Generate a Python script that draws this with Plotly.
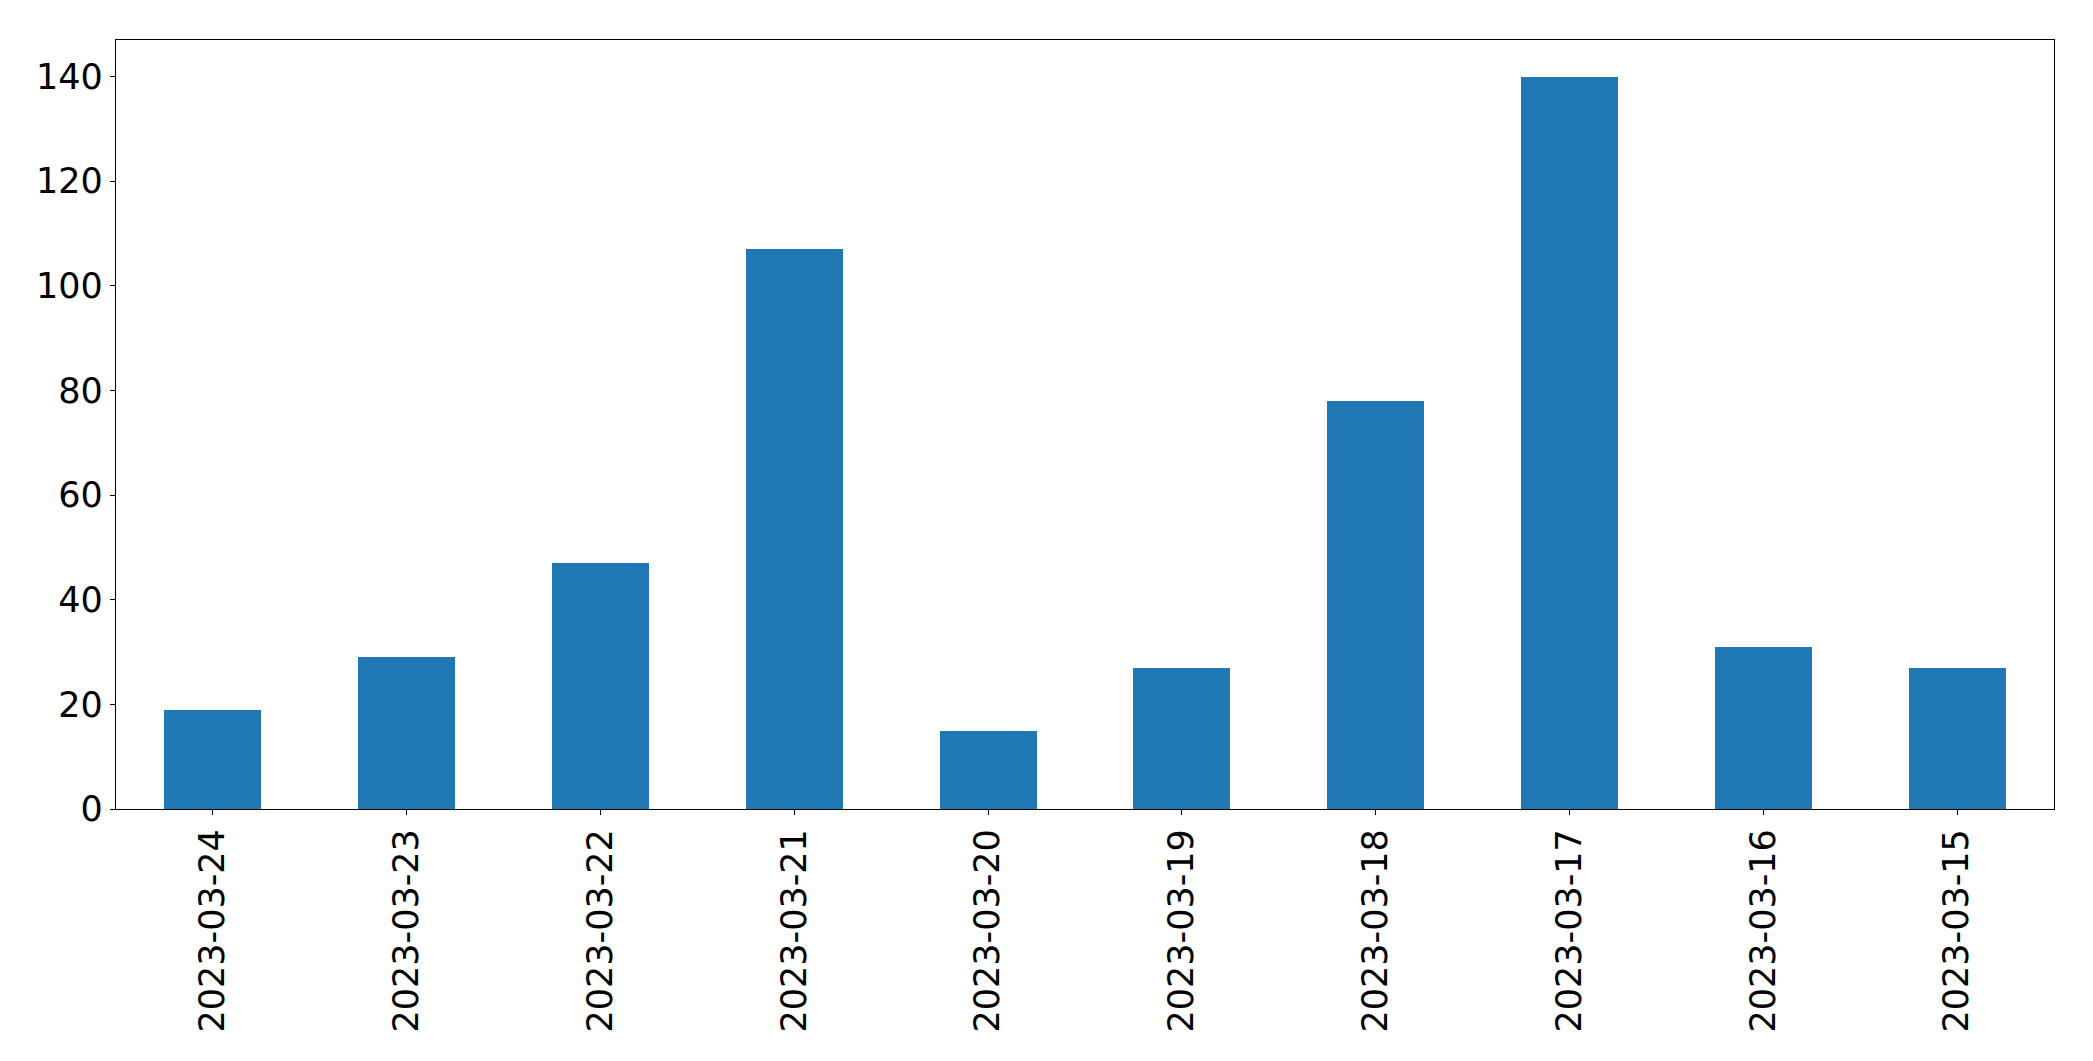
import plotly.graph_objects as go

dates = ["2023-03-24", "2023-03-23", "2023-03-22", "2023-03-21", "2023-03-20",
         "2023-03-19", "2023-03-18", "2023-03-17", "2023-03-16", "2023-03-15"]
counts = [19, 29, 47, 107, 15, 27, 78, 140, 31, 27]
y_ticks = [0, 20, 40, 60, 80, 100, 120, 140]

fig = go.Figure(go.Bar(x=dates, y=counts, width=0.5, marker=dict(color="#1f77b4", line=dict(width=0))))

fig.update_layout(
    width=2093, height=1061,
    margin=dict(l=116, r=39, t=40, b=252),
    plot_bgcolor="white", paper_bgcolor="white",
    font=dict(family="DejaVu Sans", size=35, color="black"),
    showlegend=False,
    bargap=0,
)
fig.update_xaxes(
    type="category", range=[-0.5, 9.5], tickangle=-90,
    showline=True, linecolor="black", linewidth=1.3, mirror=True,
    ticks="outside", ticklen=5, tickcolor="black", tickwidth=1.3,
    showgrid=False, ticklabelstandoff=0, tickfont=dict(size=35),
)
fig.update_yaxes(
    range=[0, 147], tickvals=y_ticks,
    showline=True, linecolor="black", linewidth=1.3, mirror=True,
    ticks="outside", ticklen=5, tickcolor="black", tickwidth=1.3,
    showgrid=False, zeroline=False, ticklabelstandoff=0, tickfont=dict(size=35),
)

fig.write_html("out.html")
